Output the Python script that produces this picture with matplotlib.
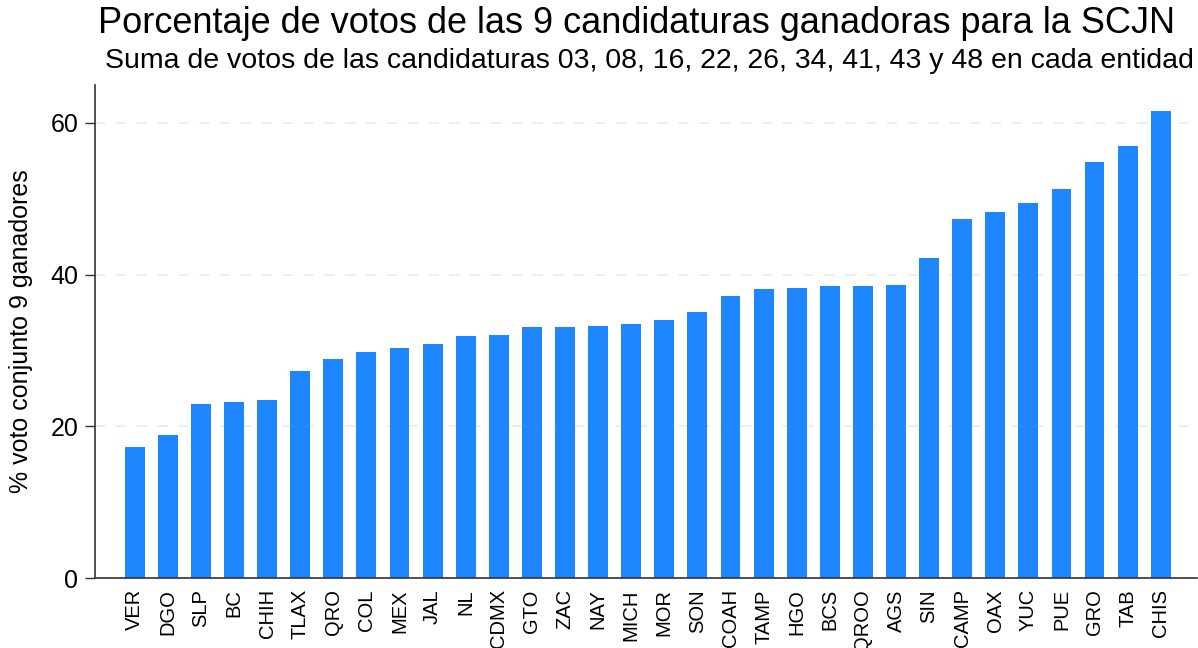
import matplotlib.pyplot as plt
import numpy as np

plt.rcParams['font.family'] = ['Liberation Sans', 'DejaVu Sans']

estados = ['VER', 'DGO', 'SLP', 'BC', 'CHIH', 'TLAX', 'QRO', 'COL', 'MEX', 'JAL',
           'NL', 'CDMX', 'GTO', 'ZAC', 'NAY', 'MICH', 'MOR', 'SON', 'COAH', 'TAMP',
           'HGO', 'BCS', 'QROO', 'AGS', 'SIN', 'CAMP', 'OAX', 'YUC', 'PUE', 'GRO',
           'TAB', 'CHIS']
porcentaje = [17.3, 18.9, 23.0, 23.2, 23.4, 27.3, 28.9, 29.8, 30.3, 30.9,
              31.9, 32.0, 33.1, 33.1, 33.2, 33.5, 34.0, 35.1, 37.2, 38.1,
              38.2, 38.5, 38.5, 38.6, 42.2, 47.3, 48.2, 49.4, 51.3, 54.8,
              57.0, 61.6]
yticks = [0, 20, 40, 60]

fig = plt.figure(figsize=(11.98, 6.48), dpi=100)
ax = fig.add_axes([0.0793, 0.108, 0.92, 0.761])

x = np.arange(len(estados))
ax.bar(x, porcentaje, width=0.6, color='#1e87ff', zorder=2)

ax.set_xlim(-1.2, 32.1)
ax.set_ylim(0, 65)
ax.set_yticks(yticks)
ax.set_yticklabels([str(t) for t in yticks], fontsize=18)
# lineas guia punteadas
for t in yticks[1:]:
    ax.axhline(t, color='#eeeeee', linewidth=1.5, dashes=(5, 5), zorder=1)

ax.set_xticks(x)
ax.set_xticklabels(estados, rotation=90, fontsize=14.5)
ax.tick_params(axis='x', length=0, pad=8)
ax.tick_params(axis='y', length=7, width=1, color='#333333', pad=5)

for side in ['top', 'right']:
    ax.spines[side].set_visible(False)
for side in ['left', 'bottom']:
    ax.spines[side].set_color('#333333')
    ax.spines[side].set_linewidth(1.2)

ax.set_ylabel('% voto conjunto 9 ganadores', fontsize=18)
ax.yaxis.set_label_coords(-0.056, 0.5)

fig.text(0.531, 1 - 33 / 648, 'Porcentaje de votos de las 9 candidaturas ganadoras para la SCJN',
         ha='center', va='baseline', fontsize=26)
fig.text(0.542, 1 - 68 / 648, 'Suma de votos de las candidaturas 03, 08, 16, 22, 26, 34, 41, 43 y 48 en cada entidad',
         ha='center', va='baseline', fontsize=20.5)

fig.savefig('out.png', dpi=100)
